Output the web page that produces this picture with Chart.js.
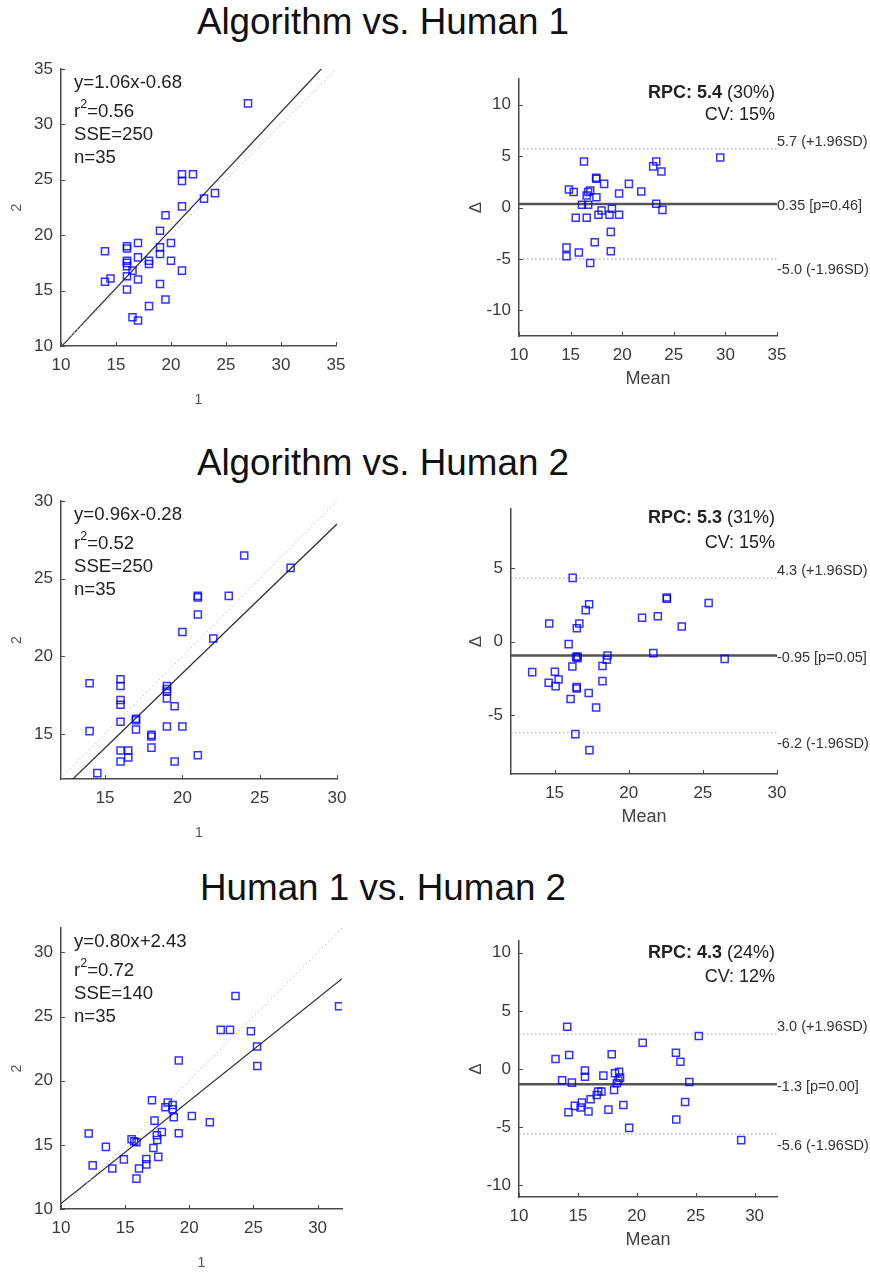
<!DOCTYPE html>
<html>
<head>
<meta charset="utf-8">
<title>Algorithm vs. Human agreement</title>
<script src="https://cdn.jsdelivr.net/npm/chart.js@4.4.0/dist/chart.umd.min.js"></script>
<style>
    body { margin: 0; background: #fff; width: 870px; height: 1273px; position: relative; overflow: hidden;
           font-family: "Liberation Sans", Arial, sans-serif; }
    canvas { position: absolute; }
    .ttl { position: absolute; left: 0; width: 766px; text-align: center; font-size: 36.8px; line-height: 36px; color: #111; }
</style>
</head>
<body>
<div class="ttl" style="top:4px">Algorithm vs. Human 1</div>
<div class="ttl" style="top:445px">Algorithm vs. Human 2</div>
<div class="ttl" style="top:870px">Human 1 vs. Human 2</div>
<script>
// --- Algorithm vs. Human 1 ---
var algH1_x = [27, 21, 21, 22, 24, 23, 21, 19.5, 19, 20, 17, 16, 16, 19, 19, 14, 17, 16, 16, 16,
               18, 18, 20, 16.5, 21, 16, 17, 14.5, 14, 19, 16, 18, 19.5, 16.5, 17];
var algH1_y = [31.9, 25.5, 24.9, 25.5, 23.8, 23.3, 22.6, 21.8, 20.4, 19.3, 19.3, 19.0, 18.8, 18.9, 18.3, 18.55, 18.0, 17.7, 17.5, 17.2,
               17.7, 17.4, 17.7, 16.8, 16.8, 16.3, 16.0, 16.1, 15.8, 15.6, 15.1, 13.6, 14.2, 12.6, 12.3];
var algH1_fit = [1.06, -0.68];
var algH1_stats = ['0.56', '250', '35'];
var algH1_mean = [29.5, 16.3, 23.3, 23.0, 23.8, 17.47, 17.5, 18.25, 20.65, 14.84, 15.3, 21.85, 16.9, 16.7, 19.7, 16.56, 17.5, 16.1, 16.7, 23.3,
                  23.9, 19.0, 18.0, 17.7, 18.77, 19.7, 15.5, 16.56, 18.9, 17.34, 14.6, 14.6, 15.8, 18.9, 16.9];
var algH1_diff = [4.87, 4.48, 4.48, 4.0, 3.5, 2.9, 2.8, 2.3, 2.3, 1.75, 1.5, 1.56, 1.65, 1.5, 1.36, 1.17, 1.0, 0.26, 0.26, 0.36,
                  -0.23, -0.13, -0.3, -0.7, -0.7, -0.7, -1.0, -1.0, -2.37, -3.38, -3.9, -4.74, -4.38, -4.25, -5.4];
var algH1_limits = [5.7, 0.35, -5.0];
var algH1_limitText = ['5.7 (+1.96SD)', '0.35 [p=0.46]', '-5.0 (-1.96SD)'];
var algH1_rpc = ['5.4', '(30%)', '15%'];

// --- Algorithm vs. Human 2 ---
var algH2_x = [24, 27, 21, 21, 23, 21, 20, 22, 14, 16, 16, 19, 19, 19, 19, 16, 16, 19.5, 17, 17,
               16, 17, 14, 19, 20, 18, 18, 18, 16, 16.5, 16.5, 16, 19.5, 21, 14.5];
var algH2_y = [26.5, 25.7, 23.9, 23.8, 23.9, 22.7, 21.57, 21.16, 18.28, 18.54, 18.1, 18.1, 17.9, 17.75, 17.3, 17.2, 16.9, 16.8, 16.0, 15.9,
               15.8, 15.3, 15.2, 15.5, 15.5, 14.96, 14.85, 14.14, 13.95, 13.95, 13.5, 13.24, 13.24, 13.65, 12.5];
var algH2_fit = [0.96, -0.28];
var algH2_stats = ['0.52', '250', '35'];
var algH2_mean = [16.22, 17.33, 17.1, 22.57, 22.57, 25.39, 20.9, 21.96, 23.58, 14.64, 16.67, 16.5, 15.95, 21.66, 26.47, 16.54, 16.54, 18.57, 18.52, 13.49,
                  15.02, 16.2, 18.23, 14.6, 15.07, 15.27, 18.23, 16.49, 16.49, 17.3, 16.08, 17.8, 16.4, 17.35, 16.45];
var algH2_diff = [4.32, 2.53, 2.13, 2.99, 2.9, 2.62, 1.61, 1.72, 1.02, 1.22, 1.22, 0.9, -0.18, -0.79, -1.18, -1.02, -1.13, -0.95, -1.24, -2.08,
                  -2.06, -1.70, -1.67, -2.8, -3.03, -2.58, -2.69, -3.1, -3.19, -3.5, -3.91, -4.48, -6.29, -7.38, -1.05];
var algH2_limits = [4.3, -0.95, -6.2];
var algH2_limitText = ['4.3 (+1.96SD)', '-0.95 [p=0.05]', '-6.2 (-1.96SD)'];
var algH2_rpc = ['5.3', '(31%)', '15%'];

// --- Human 1 vs. Human 2 ---
var h1h2_x = [23.6, 31.67, 22.45, 23.17, 24.8, 25.28, 25.3, 19.18, 17.09, 18.32, 18.14, 18.7, 18.7, 18.79, 20.2, 21.6, 17.29, 12.16, 17.47, 17.86,
              19.18, 17.5, 15.5, 15.88, 15.7, 13.5, 17.2, 14.9, 16.65, 17.58, 12.47, 14.0, 16.65, 16.08, 15.88];
var h1h2_y = [26.6, 25.8, 23.96, 23.96, 23.86, 22.66, 21.15, 21.57, 18.48, 18.3, 17.93, 18.1, 17.77, 17.15, 17.25, 16.76, 16.89, 15.88, 15.75, 16.0,
              15.9, 15.38, 15.43, 15.2, 15.28, 14.84, 14.76, 13.87, 13.9, 14.06, 13.4, 13.15, 13.48, 13.15, 12.37];
var h1h2_fit = [0.80, 2.43];
var h1h2_stats = ['0.72', '140', '35'];
var h1h2_mean = [14.09, 25.26, 20.5, 13.1, 14.26, 17.87, 23.32, 23.7, 15.6, 15.6, 17.16, 18.15, 18.5, 18.58, 18.44, 18.3, 13.66, 14.49, 24.46, 16.73,
                 17.0, 16.6, 18.07, 16.08, 24.1, 15.34, 14.74, 15.23, 18.86, 17.59, 14.2, 15.9, 23.35, 19.35, 28.86];
var h1h2_diff = [3.63, 2.83, 2.26, 0.86, 1.2, 1.26, 1.4, 0.63, -0.14, -0.66, -0.57, -0.37, -0.23, -0.74, -1.0, -1.23, -0.97, -1.17, -1.11, -1.94,
                 -1.94, -2.23, -1.8, -2.6, -2.83, -2.89, -3.17, -3.31, -3.09, -3.49, -3.71, -3.66, -4.34, -5.06, -6.11];
var h1h2_limits = [3.0, -1.3, -5.6];
var h1h2_limitText = ['3.0 (+1.96SD)', '-1.3 [p=0.00]', '-5.6 (-1.96SD)'];
var h1h2_rpc = ['4.3', '(24%)', '12%'];

// axis ranges and tick labels
var ticks5to35 = [10, 15, 20, 25, 30, 35];
var ticks15to30 = [15, 20, 25, 30];
var ticks10to30 = [10, 15, 20, 25, 30];
var ticksDiff10 = [-10, -5, 0, 5, 10];
var ticksDiff5 = [-5, 0, 5];

var FONT = '"Liberation Sans", Arial, sans-serif';
var AXIS = '#4a4a4a';
var TICK = '#3a3a3a';
var BLUE = 'rgba(0,0,255,0.8)';

function pts(xs, ys) {
    return xs.map(function (x, i) { return {x: x, y: ys[i]}; });
}

function axis(range, tickVals, fit, pad) {
    return {
        type: 'linear', min: range[0], max: range[1],
        grid: {display: false, drawTicks: false},
        border: {display: true, color: AXIS, width: 1.5},
        ticks: {font: {family: FONT, size: 17}, color: TICK, padding: pad, autoSkip: false, maxRotation: 0, minRotation: 0},
        afterBuildTicks: function (s) { s.ticks = tickVals.map(function (v) { return {value: v}; }); },
        afterFit: fit
    };
}

// small inward tick marks, matlab style
var inTicks = {
    id: 'inTicks',
    afterDatasetsDraw: function (chart) {
        var ctx = chart.ctx, a = chart.chartArea, xs = chart.scales.x, ys = chart.scales.y;
        ctx.save();
        ctx.strokeStyle = AXIS;
        ctx.lineWidth = 1;
        xs.ticks.forEach(function (t) {
            var px = Math.round(xs.getPixelForValue(t.value)) + 0.5;
            ctx.beginPath(); ctx.moveTo(px, a.bottom); ctx.lineTo(px, a.bottom - 4); ctx.stroke();
        });
        ys.ticks.forEach(function (t) {
            var py = Math.round(ys.getPixelForValue(t.value)) + 0.5;
            ctx.beginPath(); ctx.moveTo(a.left, py); ctx.lineTo(a.left + 4, py); ctx.stroke();
        });
        ctx.restore();
    }
};

function makePanel(p) {
    var cv = document.createElement('canvas');
    cv.width = p.canvas[2]; cv.height = p.canvas[3];
    cv.style.left = p.canvas[0] + 'px'; cv.style.top = p.canvas[1] + 'px';
    document.body.appendChild(cv);
    var yW = p.box[0] - p.canvas[0];
    var xH = p.canvas[1] + p.canvas[3] - p.box[3];
    return new Chart(cv, {
        type: 'scatter',
        data: {datasets: p.datasets},
        options: {
            responsive: false, animation: false, devicePixelRatio: 1,
            layout: {padding: {left: 0, top: p.box[1] - p.canvas[1], right: p.canvas[0] + p.canvas[2] - p.box[2], bottom: 0}},
            plugins: {legend: {display: false}, tooltip: {enabled: false}, title: {display: false}},
            scales: {
                x: axis(p.xr, p.xt, function (s) { s.height = xH; }, 9),
                y: axis(p.yr, p.yt, function (s) { s.width = yW; }, 8)
            }
        },
        plugins: [inTicks, {
            id: 'txt',
            afterDraw: function (chart) {
                var ctx = chart.ctx;
                ctx.save();
                p.draw(ctx, chart.chartArea, chart, p.canvas[0], p.canvas[1]);
                ctx.restore();
            }
        }]
    });
}

function markers(xs, ys) {
    return {data: pts(xs, ys), pointStyle: 'rect', pointRadius: 5, borderColor: BLUE, backgroundColor: 'rgba(0,0,0,0)',
            borderWidth: 1.5, showLine: false, order: 1};
}

function lineSet(data, color, width, dash) {
    return {data: data, borderColor: color, borderWidth: width, borderDash: dash || [], pointRadius: 0,
            showLine: true, fill: false, order: 2};
}

function scatterPanel(canvas, box, xs, ys, fit, stats, xr, yr, xt, yt) {
    var lo = Math.min(xr[0], yr[0]), hi = Math.max(xr[1], yr[1]);
    var fitLine = [{x: xr[0], y: fit[0] * xr[0] + fit[1]}, {x: xr[1], y: fit[0] * xr[1] + fit[1]}];
    var eq = 'y=' + fit[0].toFixed(2) + 'x' + (fit[1] < 0 ? '-' : '+') + Math.abs(fit[1]).toFixed(2);
    makePanel({
        canvas: canvas, box: box, xr: xr, yr: yr, xt: xt, yt: yt,
        datasets: [
            lineSet([{x: lo, y: lo}, {x: hi, y: hi}], '#b8b8b8', 1, [1.5, 3]),
            lineSet(fitLine, '#333', 1.3),
            markers(xs, ys)
        ],
        draw: function (ctx, a, chart, offX, offY) {
            var x = a.left + 13;
            ctx.fillStyle = '#222';
            ctx.textAlign = 'left';
            ctx.textBaseline = 'middle';
            ctx.font = '18.6px ' + FONT;
            ctx.fillText(eq, x, a.top + 14);
            ctx.fillText('r', x, a.top + 43);
            var w = ctx.measureText('r').width;
            ctx.font = '12.5px ' + FONT;
            ctx.fillText('2', x + w, a.top + 36);
            var w2 = ctx.measureText('2').width;
            ctx.font = '18.6px ' + FONT;
            ctx.fillText('=' + stats[0], x + w + w2, a.top + 43);
            ctx.fillText('SSE=' + stats[1], x, a.top + 66);
            ctx.fillText('n=' + stats[2], x, a.top + 89);
            // axis names
            ctx.fillStyle = '#555';
            ctx.font = '14px ' + FONT;
            ctx.textAlign = 'center';
            ctx.fillText('1', (a.left + a.right) / 2, a.bottom + 54);
            ctx.translate(17 - offX, (a.top + a.bottom) / 2);
            ctx.rotate(-Math.PI / 2);
            ctx.fillText('2', 0, 0);
        }
    });
}

function baPanel(canvas, box, ms, ds, lim, limText, rpc, rpcY, xr, yr, xt, yt) {
    makePanel({
        canvas: canvas, box: box, xr: xr, yr: yr, xt: xt, yt: yt,
        datasets: [
            lineSet([{x: xr[0], y: lim[0]}, {x: xr[1], y: lim[0]}], '#9a9a9a', 1, [1.5, 2.5]),
            lineSet([{x: xr[0], y: lim[2]}, {x: xr[1], y: lim[2]}], '#9a9a9a', 1, [1.5, 2.5]),
            lineSet([{x: xr[0], y: lim[1]}, {x: xr[1], y: lim[1]}], '#555', 2.5),
            markers(ms, ds)
        ],
        draw: function (ctx, a, chart, offX, offY) {
            var R = a.right - 2, ys = chart.scales.y;
            ctx.fillStyle = '#222';
            ctx.textBaseline = 'middle';
            ctx.textAlign = 'right';
            ctx.font = '18px ' + FONT;
            var tail = ' ' + rpc[1];
            var wt = ctx.measureText(tail).width;
            ctx.fillText(tail, R, rpcY[0] - offY);
            ctx.fillText('CV: ' + rpc[2], R, rpcY[1] - offY);
            ctx.font = 'bold 18px ' + FONT;
            ctx.fillText('RPC: ' + rpc[0], R - wt, rpcY[0] - offY);
            // limits of agreement labels
            ctx.fillStyle = '#333';
            ctx.font = '14.5px ' + FONT;
            ctx.textAlign = 'left';
            ctx.textBaseline = 'alphabetic';
            ctx.fillText(limText[0], a.right, ys.getPixelForValue(lim[0]) - 3);
            ctx.fillText(limText[1], a.right, ys.getPixelForValue(lim[1]) + 6.5);
            ctx.fillText(limText[2], a.right, ys.getPixelForValue(lim[2]) + 15.5);
            // axis names
            ctx.fillStyle = '#444';
            ctx.textAlign = 'center';
            ctx.textBaseline = 'middle';
            ctx.font = '18px ' + FONT;
            ctx.fillText('Mean', (a.left + a.right) / 2, a.bottom + 43);
            ctx.font = '17px ' + FONT;
            ctx.translate(476 - offX, (a.top + a.bottom) / 2);
            ctx.rotate(-Math.PI / 2);
            ctx.fillText('\u0394', 0, 0);
        }
    });
}

scatterPanel([0, 45, 430, 375], [61, 69, 336, 346], algH1_x, algH1_y, algH1_fit, algH1_stats,
             [10, 35], [10, 35], ticks5to35, ticks5to35);
baPanel([430, 45, 440, 375], [519, 79, 777, 336], algH1_mean, algH1_diff, algH1_limits, algH1_limitText,
        algH1_rpc, [93, 115], [10, 35], [-12.5, 12.5], ticks5to35, ticksDiff10);

scatterPanel([0, 475, 430, 375], [61, 501, 337, 779], algH2_x, algH2_y, algH2_fit, algH2_stats,
             [12.15, 30], [12.12, 30], ticks15to30, ticks15to30);
baPanel([430, 475, 440, 375], [511, 509, 777, 774], algH2_mean, algH2_diff, algH2_limits, algH2_limitText,
        algH2_rpc, [518, 543], [12.06, 30], [-9, 9], ticks15to30, ticksDiff5);

scatterPanel([0, 900, 430, 373], [61, 928, 342, 1209], h1h2_x, h1h2_y, h1h2_fit, h1h2_stats,
             [10, 31.9], [10, 31.9], ticks10to30, ticks10to30);
baPanel([430, 900, 440, 373], [519, 941, 777, 1197], h1h2_mean, h1h2_diff, h1h2_limits, h1h2_limitText,
        h1h2_rpc, [953, 977], [10, 31.9], [-11, 11], ticks10to30, ticksDiff10);
</script>
</body>
</html>
